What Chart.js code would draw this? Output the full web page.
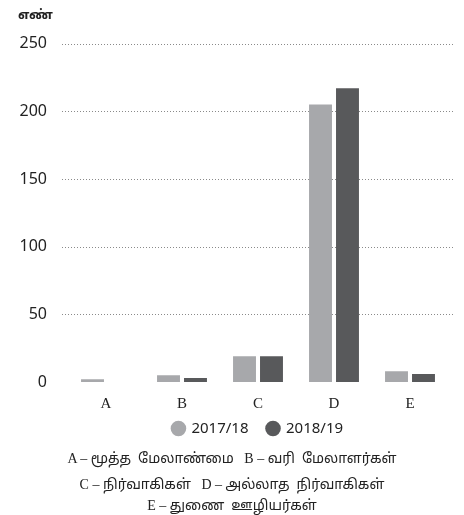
<!DOCTYPE html>
<html>
<head>
<meta charset="utf-8">
<script src="https://cdn.jsdelivr.net/npm/chart.js@4.4.0/dist/chart.umd.min.js"></script>
<style>
  html,body{margin:0;padding:0;background:#fff;}
  #wrap{position:relative;width:464px;height:515px;}
  #c{position:absolute;left:0;top:0;}
  .cap{position:absolute;left:0;width:464px;text-align:center;font-family:"Liberation Serif","Noto Sans Tamil","Noto Sans",serif;font-size:14px;line-height:20px;color:#222;white-space:pre;}
</style>
</head>
<body>
<div id="wrap">
  <canvas id="c" width="464" height="515"></canvas>
  <div class="cap" style="top:449px;">A – மூத்த  மேலாண்மை   B – வரி  மேலாளர்கள்</div>
  <div class="cap" style="top:475px;">C – நிர்வாகிகள்   D – அல்லாத  நிர்வாகிகள்</div>
  <div class="cap" style="top:496px;">E – துணை  ஊழியர்கள்</div>
</div>
<script>
const categories = ["A", "B", "C", "D", "E"];
const seriesNames = ["2017/18", "2018/19"];
const values2017 = [2, 5, 19, 205, 8];
const values2018 = [0, 3, 19, 217, 6];
const yTicks = [0, 50, 100, 150, 200, 250];
const yTitle = "எண்";

const colors = ["#a7a8ab", "#58595b"];

const gridPlugin = {
  id: 'extGrid',
  beforeDatasetsDraw(chart) {
    const {ctx, chartArea, scales} = chart;
    ctx.save();
    ctx.strokeStyle = '#8a8a8a';
    ctx.lineWidth = 1;
    ctx.setLineDash([1, 2]);
    yTicks.forEach(v => {
      if (v === 0) return;
      const y = Math.round(scales.y.getPixelForValue(v)) + 0.5;
      ctx.beginPath();
      ctx.moveTo(chartArea.left - 6, y);
      ctx.lineTo(chartArea.right + 7, y);
      ctx.stroke();
    });
    ctx.restore();
  }
};

new Chart(document.getElementById('c'), {
  type: 'bar',
  data: {
    labels: categories,
    datasets: [
      {label: seriesNames[0], data: values2017, backgroundColor: colors[0], borderWidth: 0},
      {label: seriesNames[1], data: values2018, backgroundColor: colors[1], borderWidth: 0}
    ]
  },
  options: {
    responsive: false,
    animation: false,
    devicePixelRatio: 1,
    datasets: {bar: {categoryPercentage: 0.71, barPercentage: 0.85}},
    layout: {padding: {left: 18, right: 16, top: 9, bottom: 69}},
    plugins: {
      title: {
        display: true, text: yTitle, align: 'start',
        color: '#222', font: {family: "'Noto Sans Tamil', 'Noto Sans', sans-serif", size: 13, weight: 'bold', lineHeight: 1.2},
        padding: {top: 0, bottom: 19}
      },
      legend: {
        position: 'bottom', fullSize: false,
        labels: {
          usePointStyle: true, pointStyle: 'circle', boxWidth: 11, boxHeight: 11,
          color: '#222', font: {family: "'Noto Sans', sans-serif", size: 15}, padding: 19
        }
      },
      tooltip: {enabled: false}
    },
    scales: {
      x: {
        afterFit(s) { s.height = 20; },
        afterUpdate(s) { s._computeLabelArea = () => undefined; },
        grid: {display: false, drawTicks: false},
        border: {display: false},
        ticks: {color: '#222', font: {family: "'Liberation Serif', serif", size: 15}, padding: 13}
      },
      y: {
        min: 0, max: 250,
        afterFit(s) { s.width = 50; },
        afterBuildTicks(s) { s.ticks = yTicks.map(v => ({value: v})); },
        grid: {display: false, drawTicks: false},
        border: {display: false},
        ticks: {color: '#222', font: {family: "'Noto Sans', sans-serif", size: 16}, padding: 21}
      }
    }
  },
  plugins: [gridPlugin]
});
</script>
</body>
</html>
